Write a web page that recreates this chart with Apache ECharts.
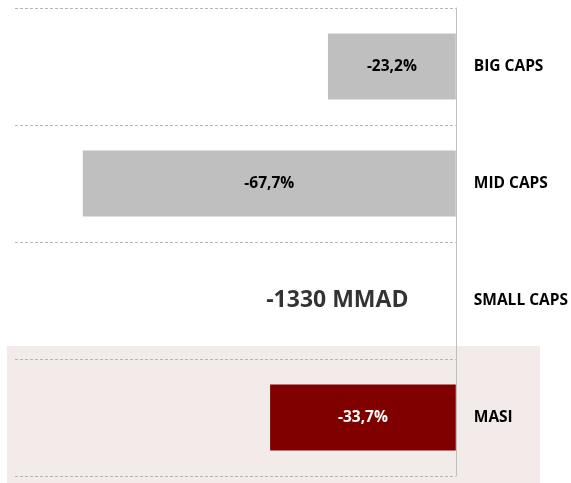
<!DOCTYPE html>
<html>
<head>
<meta charset="utf-8">
<script src="https://cdn.jsdelivr.net/npm/echarts@6/dist/echarts.min.js"></script>
<style>
html,body{margin:0;padding:0;background:#fff;}
#chart{width:571px;height:483px;}
</style>
</head>
<body>
<div id="chart"></div>
<script>
const categories = ['BIG CAPS', 'MID CAPS', 'SMALL CAPS', 'MASI'];
const perfValues = [-23.2, -67.7, null, -33.7];
const smallCapsFlow = [-1330];
const smallCapsUnit = 'MMAD';
const smallCapsLabelPos = [-21.5];

const FONT = 'Open Sans';
const chart = echarts.init(document.getElementById('chart'));
const barColors = ['#bfbfbf', '#bfbfbf', '#bfbfbf', '#800000'];
const labelColors = ['#000', '#000', '#000', '#ffffff'];

chart.setOption({
  animation: false,
  backgroundColor: '#ffffff',
  graphic: [{
    type: 'rect', z: -10, silent: true,
    shape: { x: 7, y: 346, width: 533, height: 137 },
    style: { fill: '#f3ebea' }
  }],
  grid: { left: 15, right: 114, top: 8, bottom: 7, containLabel: false },
  xAxis: {
    type: 'value', min: -80, max: 0, show: false
  },
  yAxis: {
    type: 'category', data: categories, inverse: true, position: 'right',
    axisLine: { show: true, onZero: false, lineStyle: { color: '#bfbfbf', width: 1 } },
    axisTick: { show: false },
    splitLine: { show: true, lineStyle: { color: '#b5b5b5', type: [3, 2], width: 1 } },
    axisLabel: { margin: 18, fontFamily: FONT, fontWeight: 'bold', fontSize: 15.5, color: '#000' }
  },
  series: [{
    type: 'bar',
    data: perfValues.map((v, i) => v === null ? null : {
      value: v,
      itemStyle: { color: barColors[i] },
      label: { color: labelColors[i] }
    }),
    barWidth: 66,
    label: {
      show: true, position: 'inside', fontFamily: FONT, fontWeight: 'bold', fontSize: 15.5,
      formatter: p => p.value.toFixed(1).replace('.', ',') + '%'
    }
  }, {
    type: 'scatter',
    symbolSize: 0,
    data: smallCapsFlow.map((f, i) => ({ value: [smallCapsLabelPos[i], 'SMALL CAPS'], flow: f })),
    label: {
      show: true, position: 'inside', fontFamily: FONT, fontWeight: 'bold', fontSize: 23, color: '#000',
      formatter: p => p.data.flow + ' ' + smallCapsUnit
    }
  }]
});
</script>
</body>
</html>
